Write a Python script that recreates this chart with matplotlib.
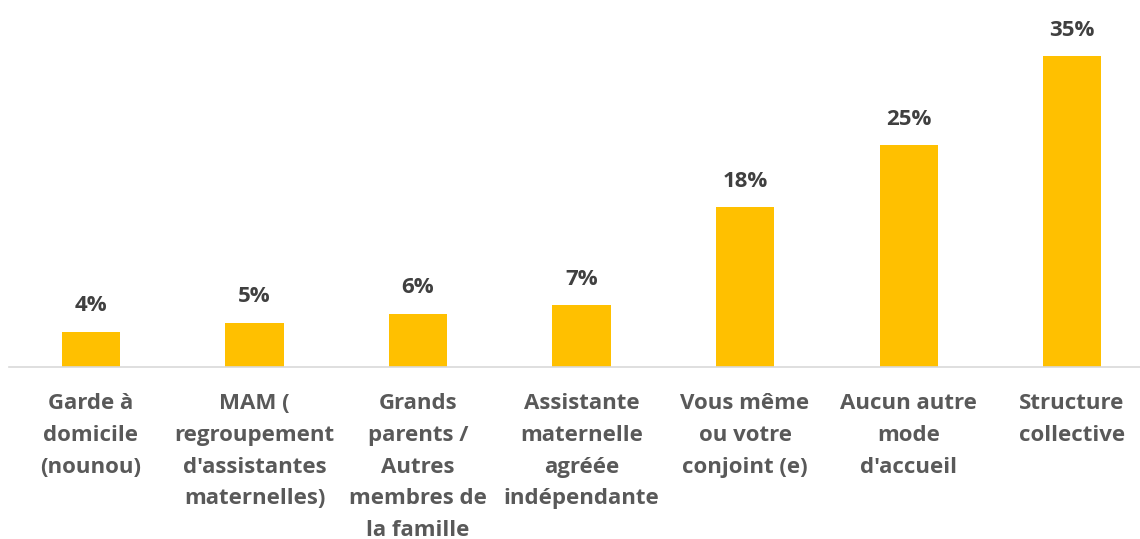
import matplotlib
matplotlib.use("Agg")
import matplotlib.pyplot as plt
import numpy as np

categories = [
    "Garde à\ndomicile\n(nounou)",
    "MAM (\nregroupement\nd'assistantes\nmaternelles)",
    "Grands\nparents /\nAutres\nmembres de\nla famille",
    "Assistante\nmaternelle\nagréée\nindépendante",
    "Vous même\nou votre\nconjoint (e)",
    "Aucun autre\nmode\nd'accueil",
    "Structure\ncollective",
]
values = [4, 5, 6, 7, 18, 25, 35]

BAR = "#FFC000"
plt.rcParams["font.family"] = ["Open Sans", "DejaVu Sans"]

fig = plt.figure(figsize=(11.4, 5.39), dpi=100)
ax = fig.add_axes([0.0081, 0.319, 1.004, 0.6594])

x = np.arange(len(values))
ax.bar(x, values, 0.355, color=BAR)
ax.set_xlim(-0.5, len(values) - 0.5)
ax.set_ylim(0, 40)

for xi, v in zip(x, values):
    ax.annotate(f"{v}%", (xi, v), xytext=(0, 11), textcoords="offset points",
                ha="center", va="bottom", fontsize=16, fontweight="bold",
                color="#404040")

for xi, lab in zip(x, categories):
    ax.annotate(lab, (xi, 0), xytext=(0, -19), textcoords="offset points",
                ha="center", va="top", fontsize=16, fontweight="bold",
                color="#595959", linespacing=1.66)

for s in ["top", "right", "left"]:
    ax.spines[s].set_visible(False)
ax.spines["bottom"].set_color("#D9D9D9")
ax.spines["bottom"].set_linewidth(1.2)
ax.set_xticks([])
ax.set_yticks([])

fig.savefig("out.png", dpi=100)
